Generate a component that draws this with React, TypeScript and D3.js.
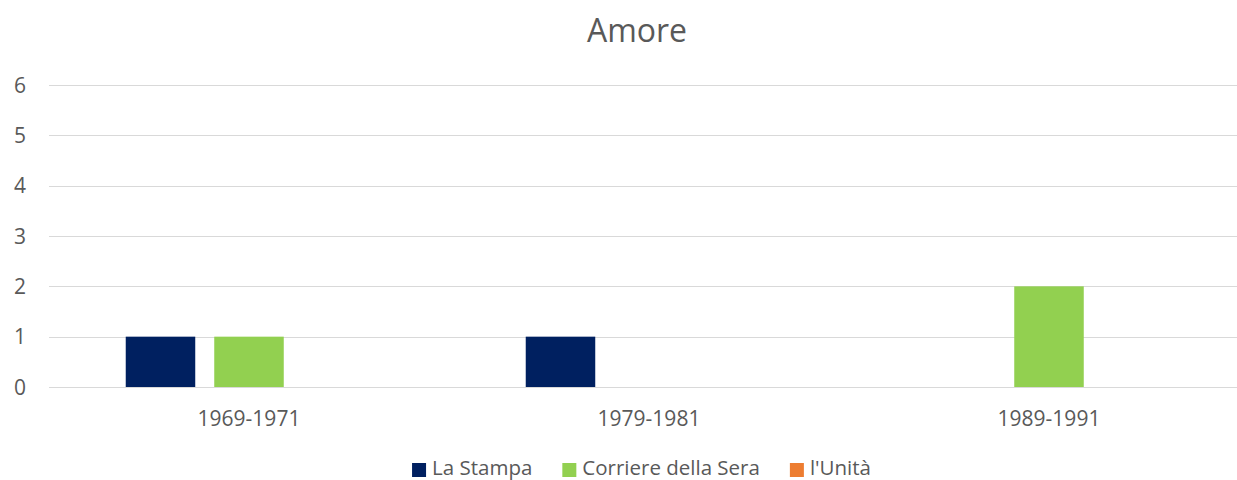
import React, { useEffect, useRef } from 'react';
import * as d3 from 'd3';

const categories = ['1969-1971', '1979-1981', '1989-1991'];
const seriesNames = ['La Stampa', 'Corriere della Sera', "l'Unità"];
const laStampa = [1, 1, 0];
const corriere = [1, 0, 2];
const unita = [0, 0, 0];
const yTicks = [0, 1, 2, 3, 4, 5, 6];
const colors = ['#002060', '#92D050', '#ED7D31'];

const App: React.FC = () => {
    const svgRef = useRef<SVGSVGElement | null>(null);

    useEffect(() => {
        if (!svgRef.current) return;
        const svg = d3.select(svgRef.current);
        svg.selectAll('*').remove();
        const width = 1237;
        const font = "'Open Sans', sans-serif";
        const textColor = '#595959';

        const values = [laStampa, corriere, unita];

        // plot area runs a bit past the right edge, like the original
        const x0 = d3.scaleBand().domain(categories).range([49, 1249]);
        const x1 = d3
            .scaleBand()
            .domain(seriesNames)
            .range([0, x0.bandwidth()])
            .paddingInner(0.2147)
            .paddingOuter(0.867);
        const y = d3.scaleLinear().domain([0, 6]).range([387, 85]);

        // title
        svg
            .append('text')
            .attr('x', 637)
            .attr('y', 42)
            .attr('text-anchor', 'middle')
            .attr('font-family', font)
            .attr('font-size', 32)
            .attr('fill', textColor)
            .text('Amore');

        // gridlines
        svg
            .append('g')
            .selectAll('line')
            .data(yTicks)
            .join('line')
            .attr('x1', 49)
            .attr('x2', width)
            .attr('y1', (d) => Math.round(y(d)) + 0.5)
            .attr('y2', (d) => Math.round(y(d)) + 0.5)
            .attr('stroke', '#D9D9D9')
            .attr('stroke-width', 1);

        // y labels
        svg
            .append('g')
            .selectAll('text')
            .data(yTicks)
            .join('text')
            .attr('x', 26)
            .attr('y', (d) => y(d))
            .attr('dy', '0.36em')
            .attr('text-anchor', 'end')
            .attr('font-family', font)
            .attr('font-size', 21)
            .attr('fill', textColor)
            .text((d) => d);

        // bars
        const groups = svg
            .append('g')
            .selectAll('g')
            .data(categories)
            .join('g')
            .attr('transform', (d) => `translate(${x0(d)},0)`);

        groups
            .selectAll('rect')
            .data((_, i) => seriesNames.map((s, k) => ({ s, v: values[k][i], c: colors[k] })))
            .join('rect')
            .filter((d) => d.v > 0)
            .attr('x', (d) => x1(d.s)!)
            .attr('width', x1.bandwidth())
            .attr('y', (d) => y(d.v))
            .attr('height', (d) => y(0) - y(d.v))
            .attr('fill', (d) => d.c);

        // x labels
        svg
            .append('g')
            .selectAll('text')
            .data(categories)
            .join('text')
            .attr('x', (d) => x0(d)! + x0.bandwidth() / 2)
            .attr('y', 426)
            .attr('text-anchor', 'middle')
            .attr('font-family', font)
            .attr('font-size', 21)
            .attr('fill', textColor)
            .text((d) => d);

        // legend, centred
        const legend = svg.append('g');
        const items = legend
            .selectAll('g')
            .data(seriesNames)
            .join('g');
        items
            .append('rect')
            .attr('width', 14)
            .attr('height', 14)
            .attr('y', 463)
            .attr('fill', (_, i) => colors[i]);
        items
            .append('text')
            .attr('x', 20)
            .attr('y', 475)
            .attr('font-family', font)
            .attr('font-size', 20.5)
            .attr('fill', textColor)
            .text((d) => d);

        let offset = 0;
        const offsets: number[] = [];
        items.each(function () {
            const t = d3.select(this).select('text').node() as SVGTextElement;
            offsets.push(offset);
            offset += 20 + t.getComputedTextLength() + 30;
        });
        const total = offset - 30;
        const start = 641.5 - total / 2;
        items.attr('transform', (_, i) => `translate(${start + offsets[i]},0)`);
    }, []);

    return (
        <svg
            ref={svgRef}
            width={1237}
            height={480}
            style={{ position: 'absolute', left: 0, top: 0, background: '#fff' }}
        />
    );
};

export default App;
